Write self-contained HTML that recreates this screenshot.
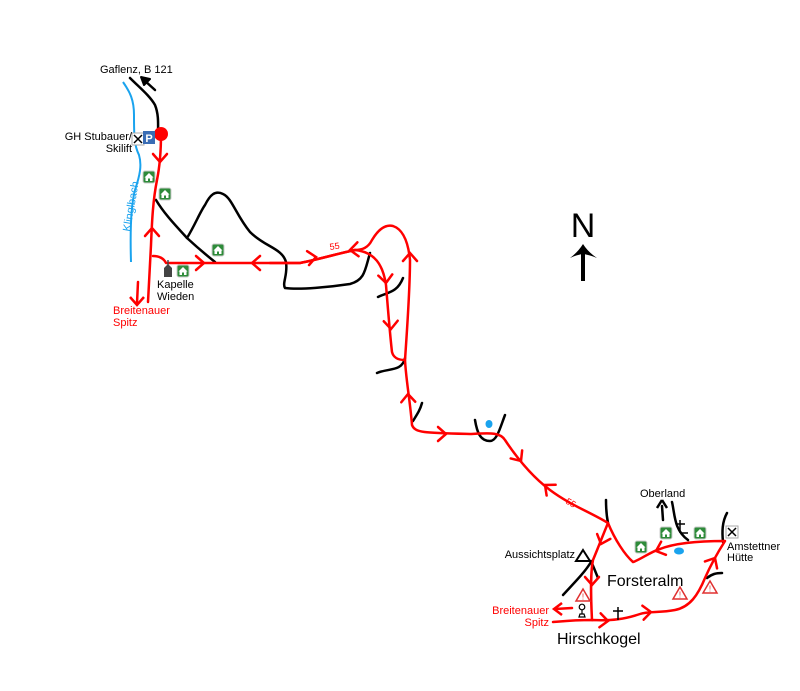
<!DOCTYPE html>
<html><head><meta charset="utf-8"><style>
html,body{margin:0;padding:0;background:#fff;}
svg{display:block;font-family:"Liberation Sans",sans-serif;}
</style></head><body>
<svg width="800" height="691" viewBox="0 0 800 691" xmlns="http://www.w3.org/2000/svg">
<defs>
<g id="chev"><path d="M-8,-7 L0,0 L-8,7" fill="none" stroke="#f00" stroke-width="2.5" stroke-linecap="round"/></g>
<g id="hut"><rect x="-6" y="-6" width="12" height="12" rx="2" fill="#2e8b3a" stroke="#ccc" stroke-width="1"/><path d="M-4.5,0.5 L0,-4 L4.5,0.5 Z" fill="#fff"/><rect x="-3.5" y="0.5" width="7" height="3.5" fill="#fff"/><rect x="-1" y="1.5" width="2" height="2.5" fill="#2e8b3a"/></g>
<g id="warn"><path d="M0,-7 L7,5 L-7,5 Z" fill="#fff" stroke="#e03030" stroke-width="1.5"/><text x="0" y="3.5" font-size="8" text-anchor="middle" fill="#e03030">!</text></g>
<g id="xicon"><rect x="-6" y="-6" width="12" height="12" fill="#fff" stroke="#aaa" stroke-width="1"/><path d="M-4,-4 L4,4 M4,-4 L-4,4" stroke="#000" stroke-width="1.5"/></g>
</defs>

<!-- stream -->
<path d="M123,82 C130,92 134,100 134,115 C134,135 134,145 139,155 C142,165 140,175 135,190 C131,205 130,230 131,262" fill="none" stroke="#1aa3ee" stroke-width="2"/>
<text x="0" y="0" font-size="11" fill="#1aa3ee" transform="translate(130,232) rotate(-80)">Klinglbach</text>

<!-- black roads -->
<g fill="none" stroke="#000" stroke-width="2.5" stroke-linecap="round">
<path d="M130,78 C140,88 150,96 155,105 C159,115 158,125 158,135"/>
<path d="M156,200 C165,215 178,228 187,238 C200,250 210,258 215,262"/>
<path d="M187,238 C195,225 200,212 205,205 C210,195 215,190 223,194 C232,198 236,215 250,232 C265,247 282,248 286,262 C288,275 282,283 285,288 C300,290 330,287 350,284 C365,280 365,270 370,253"/>
<path d="M378,297 C388,292 397,293 403,278"/>
<path d="M377,373 C388,368 402,372 405,358"/>
<path d="M413,421 C418,413 420,410 422,403"/>
<path d="M475,420 C477,432 480,441 490,441 C497,441 500,428 505,415"/>
<path d="M606,500 C606,510 607,518 608,523"/>
<path d="M672,502 C675,515 674,530 688,540"/>
<path d="M727,513 C722,522 722,532 723,542"/>
<path d="M707,578 C712,574 716,573 722,573"/>
<path d="M563,595 C575,582 585,572 591,562"/>
<path d="M591,561 C594,568 596,573 598,578"/>
<path d="M663,520 L662,506"/>
<path d="M144,80 L155,90"/>
</g>
<path d="M141,77 L150,79 L144,85 Z" fill="#000" stroke="#000" stroke-width="2" stroke-linejoin="round"/>
<path d="M662,500 L657,508 M662,500 L667,508" stroke="#000" stroke-width="2.5" fill="none"/>

<!-- red routes -->
<g fill="none" stroke="#f00" stroke-width="2.5" stroke-linecap="round" stroke-linejoin="round">
<path d="M161,134 C161,150 160,165 157,180 C153,200 152,220 151,245 C150,265 149,285 148,302"/>
<path d="M153,256 C160,256 164,259 166,263 L300,263 C320,259 340,253 355,250"/>
<path d="M270,263 L300,263 C320,259 340,253 355,250 C375,252 383,265 386,285 C388,310 390,335 392,352 C394,360 402,360 405,360 C406,380 410,400 412,425 C415,433 425,433 470,434 C490,433 500,432 505,440 C515,455 530,475 550,490 C570,505 590,512 608,523 C615,540 625,555 633,562 C640,560 650,552 660,549 C675,543 700,541 725,541 C718,552 712,562 705,578 C698,595 690,607 675,610 C660,613 648,611 640,614 C625,619 612,621 592,620 C575,620 565,621 553,622"/>
<path d="M355,250 C362,250 368,248 372,240 C378,230 385,224 393,226 C402,229 408,240 410,260 C410,290 407,330 405,360"/>
<path d="M608,523 C603,535 598,548 593,560 C590,575 591,600 592,620"/>
<path d="M555,609 L572,608"/>
<path d="M138,282 L137,303"/>
</g>
<path d="M130,297 L137,305 L144,297" fill="none" stroke="#f00" stroke-width="2.5"/>
<path d="M562,603 L554,609 L562,615" fill="none" stroke="#f00" stroke-width="2.5"/>
<circle cx="161" cy="134" r="7" fill="#f00"/>

<!-- chevrons -->
<use href="#chev" transform="translate(160,162) rotate(90)"/>
<use href="#chev" transform="translate(152,228) rotate(-90)"/>
<use href="#chev" transform="translate(204,263) rotate(0)"/>
<use href="#chev" transform="translate(252,263) rotate(180)"/>
<use href="#chev" transform="translate(316,257) rotate(-8)"/>
<use href="#chev" transform="translate(350,250) rotate(175)"/>
<use href="#chev" transform="translate(386,283) rotate(85)"/>
<use href="#chev" transform="translate(391,329) rotate(88)"/>
<use href="#chev" transform="translate(410,253) rotate(-90)"/>
<use href="#chev" transform="translate(408,394) rotate(-92)"/>
<use href="#chev" transform="translate(446,434) rotate(0)"/>
<use href="#chev" transform="translate(521,461) rotate(55)"/>
<use href="#chev" transform="translate(545,485) rotate(-140)"/>
<use href="#chev" transform="translate(601,544) rotate(110)"/>
<use href="#chev" transform="translate(592,585) rotate(90)"/>
<use href="#chev" transform="translate(656,551) rotate(160)"/>
<use href="#chev" transform="translate(715,558) rotate(-60)"/>
<use href="#chev" transform="translate(651,612) rotate(-5)"/>
<use href="#chev" transform="translate(608,621) rotate(5)"/>

<!-- icons -->
<use href="#xicon" transform="translate(138,139)"/>
<rect x="143" y="131" width="12" height="13" fill="#3a6db5"/>
<text x="149" y="142" font-size="11" font-weight="bold" fill="#fff" text-anchor="middle">P</text>
<use href="#hut" transform="translate(149,177)"/>
<use href="#hut" transform="translate(165,194)"/>
<use href="#hut" transform="translate(218,250)"/>
<use href="#hut" transform="translate(183,271)"/>
<g transform="translate(168,271)"><rect x="-4" y="-3" width="8" height="9" fill="#444"/><path d="M-4,-3 L0,-7 L4,-3Z" fill="#444"/><rect x="-0.7" y="-11" width="1.4" height="5" fill="#444"/></g>
<use href="#hut" transform="translate(666,533)"/>
<use href="#hut" transform="translate(700,533)"/>
<use href="#hut" transform="translate(641,547)"/>
<use href="#xicon" transform="translate(732,532)"/>
<path d="M680,520 L680,533 M676,524 L685,524 M680,533 L688,533" stroke="#000" stroke-width="1.5" fill="none"/>
<path d="M618,607 L618,620 M613,611 L623,611" stroke="#000" stroke-width="1.5" fill="none"/>
<ellipse cx="679" cy="551" rx="5" ry="3.5" fill="#1aa3ee"/>
<ellipse cx="489" cy="424" rx="3.5" ry="4" fill="#1aa3ee"/>
<path d="M583,550 L590,561 L576,561 Z" fill="none" stroke="#000" stroke-width="2"/>
<use href="#warn" transform="translate(583,596)"/>
<use href="#warn" transform="translate(680,594)"/>
<use href="#warn" transform="translate(710,588)"/>
<g transform="translate(582,611)"><circle cx="0" cy="-4" r="2.8" fill="none" stroke="#000" stroke-width="1.2"/><path d="M0,-1 L0,3 M-3,6 L-2,3 L2,3 L3,6 Z" stroke="#000" stroke-width="1.2" fill="none"/></g>

<!-- N arrow -->
<text x="583" y="237" font-size="34" text-anchor="middle" fill="#000">N</text>
<path d="M583,281 L583,254" stroke="#000" stroke-width="4"/>
<path d="M570,258 Q578,252 583,244 Q588,252 597,258 Q590,255 583,254 Q576,255 570,258 Z" fill="#000"/>

<!-- labels -->
<g font-size="11" fill="#000">
<text x="100" y="73">Gaflenz, B 121</text>
<text x="132" y="140" text-anchor="end">GH Stubauer/</text>
<text x="132" y="152" text-anchor="end">Skilift</text>
<text x="157" y="288">Kapelle</text>
<text x="157" y="300">Wieden</text>
<text x="640" y="497">Oberland</text>
<text x="575" y="558" text-anchor="end">Aussichtsplatz</text>
<text x="727" y="550">Amstettner</text>
<text x="727" y="561">Hütte</text>
</g>
<g font-size="11" fill="#f00">
<text x="113" y="314">Breitenauer</text>
<text x="113" y="326">Spitz</text>
<text x="549" y="614" text-anchor="end">Breitenauer</text>
<text x="549" y="626" text-anchor="end">Spitz</text>
<text x="330" y="250" font-size="9" transform="rotate(-8 330 250)">55</text>
<text x="565" y="503" font-size="9" transform="rotate(30 565 503)">55</text>
</g>
<text x="607" y="586" font-size="16" fill="#000">Forsteralm</text>
<text x="557" y="644" font-size="16" fill="#000">Hirschkogel</text>
</svg>
</body></html>
